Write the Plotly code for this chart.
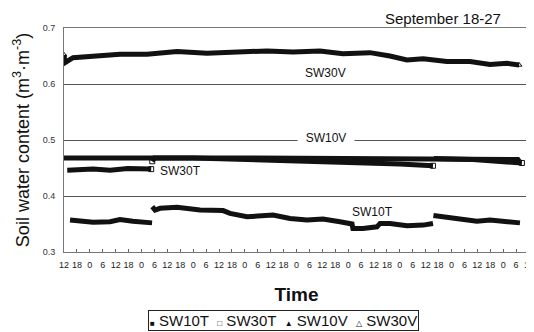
import plotly.graph_objects as go

# Hours since Sep 18 12:00
sw30v_h = [0, 0.4, 4.2, 13.5, 26, 38.6, 52.5, 66.4, 80.3, 94.3, 106.4, 118.9, 129.6, 142.1, 151.4, 159.3, 166.8, 177.9, 188.6, 197.9, 205.8, 211.4]
sw30v_v = [0.652, 0.638, 0.647, 0.649, 0.653, 0.653, 0.658, 0.655, 0.656, 0.659, 0.657, 0.659, 0.654, 0.656, 0.650, 0.643, 0.645, 0.640, 0.640, 0.635, 0.637, 0.634]

sw10v_h = [0, 20, 40, 42, 80, 130, 170, 200, 211.4]
sw10v_v = [0.468, 0.468, 0.468, 0.470, 0.468, 0.467, 0.467, 0.466, 0.465]

sw30t_h = [1.5, 13.5, 21.4, 29.6, 40.5, None, 41, 42, 60, 80, 105, 136, 156, 171.4, None, 171.8, 190, 212.7]
sw30t_v = [0.446, 0.448, 0.446, 0.449, 0.448, None, 0.462, 0.468, 0.468, 0.466, 0.464, 0.461, 0.457, 0.454, None, 0.467, 0.465, 0.459]

sw10t_h = [2.8, 13.5, 21.4, 26, 32, 40.9, None,
           41, 42.3, 44.6, 52.5, 63.2, 73.9, 77.1, 85, 97.1, 105, 112.9, 120.3, 128.2, 133.8, 134.2, 138.9, 145.4, 146.8, 151.4, 159.3, 166.8, 171.4, None,
           171.6, 173.3, 182.6, 191.8, 197.9, 203.9, 211.8]
sw10t_v = [0.357, 0.353, 0.354, 0.358, 0.355, 0.352, None,
           0.381, 0.375, 0.378, 0.380, 0.375, 0.374, 0.369, 0.363, 0.366, 0.360, 0.357, 0.359, 0.354, 0.350, 0.342, 0.342, 0.345, 0.351, 0.351, 0.347, 0.348, 0.351, None,
           0.365, 0.364, 0.359, 0.355, 0.357, 0.354, 0.352]

tick_hours = list(range(0, 217, 6))
tick_labels = ["12", "18", "0", "6"] * 9 + ["12"]

series_names = ["SW10T", "SW30T", "SW10V", "SW30V"]
legend_glyphs = ["■", "□", "▲", "△"]

# label positions (hours, value) for in-plot series labels
label_pos = {"SW30V": (121.7, 0.620), "SW10V": (121.7, 0.504), "SW30T": (54.3, 0.445), "SW10T": (143.5, 0.372)}

fig = go.Figure()
LC = "#111111"
for name, h, v in [("SW10T", sw10t_h, sw10t_v), ("SW30T", sw30t_h, sw30t_v),
                   ("SW10V", sw10v_h, sw10v_v), ("SW30V", sw30v_h, sw30v_v)]:
    fig.add_trace(go.Scatter(x=h, y=v, mode="lines", name=name, line=dict(color=LC, width=5),
                             connectgaps=False, showlegend=False, hoverinfo="skip"))

# end-point markers
fig.add_trace(go.Scatter(x=[sw30t_h[4], sw30t_h[6], sw30t_h[13], sw30t_h[-1]],
                         y=[sw30t_v[4], sw30t_v[6], sw30t_v[13], sw30t_v[-1]], mode="markers",
                         marker=dict(symbol="square-open", size=5, color=LC, line=dict(width=1)),
                         showlegend=False, hoverinfo="skip"))
fig.add_trace(go.Scatter(x=[sw30v_h[0], sw30v_h[-1]], y=[sw30v_v[0], sw30v_v[-1]], mode="markers",
                         marker=dict(symbol="triangle-up-open", size=5, color=LC, line=dict(width=1)),
                         showlegend=False, hoverinfo="skip"))
fig.add_trace(go.Scatter(x=[sw10v_h[-1]], y=[sw10v_v[-1]], mode="markers",
                         marker=dict(symbol="triangle-up", size=5, color=LC), showlegend=False, hoverinfo="skip"))

legend_text = "&nbsp;&nbsp;".join(
    f"<span style='font-size:8px'>{g}</span> {n}" for g, n in zip(legend_glyphs, series_names))

annotations = [
    dict(text="September 18-27", x=0.814, y=1.0, xref="paper", yref="paper", xanchor="center",
         yanchor="bottom", yshift=-1, showarrow=False, font=dict(size=15)),
    dict(text=legend_text, x=0.473, y=-0.304, xref="paper", yref="paper", xanchor="center", yanchor="middle",
         showarrow=False, font=dict(size=15, family="Arial, Liberation Sans, DejaVu Sans"),
         bordercolor="#222", borderwidth=1, borderpad=1, bgcolor="white"),
]
for name, (lx, ly) in label_pos.items():
    a = dict(text=name, x=lx, y=ly, xref="x", yref="y", showarrow=False, font=dict(size=12))
    if name == "SW10V":
        a.update(text="&nbsp;&nbsp;SW10V&nbsp;&nbsp;", bgcolor="white", borderpad=1)
    annotations.append(a)

# The page body has an 8px default margin, so the figure is 16px smaller than the window
fig.update_layout(
    width=526, height=324,
    margin=dict(l=56, r=5, t=20, b=80, autoexpand=False),
    paper_bgcolor="white", plot_bgcolor="white",
    font=dict(family="Arial, Liberation Sans, sans-serif", color="#111"),
    showlegend=False,
    xaxis=dict(range=[0, 216], tickvals=tick_hours, ticktext=tick_labels, tickangle=0,
               ticks="inside", ticklen=3, tickcolor="#666", tickfont=dict(size=9, color="#222"),
               ticklabeloverflow="allow", ticklabelstandoff=4,
               showgrid=False, zeroline=False, showline=True, linecolor="#777", linewidth=1, mirror=True,
               title=dict(text="<b>Time</b>", font=dict(size=19, color="#111"), standoff=18)),
    yaxis=dict(range=[0.3, 0.7], dtick=0.1, tickformat=".1f", tickfont=dict(size=9, color="#333"),
               ticks="outside", ticklen=6, tickcolor="rgba(0,0,0,0)", showgrid=True, gridcolor="#555", gridwidth=1,
               zeroline=False, showline=True, linecolor="#777", linewidth=1, mirror=True,
               title=dict(text="Soil water content (m<sup>3</sup>·m<sup>-3</sup>)", font=dict(size=18, color="#111"), standoff=8)),
    annotations=annotations,
)

fig.write_html("out.html")
